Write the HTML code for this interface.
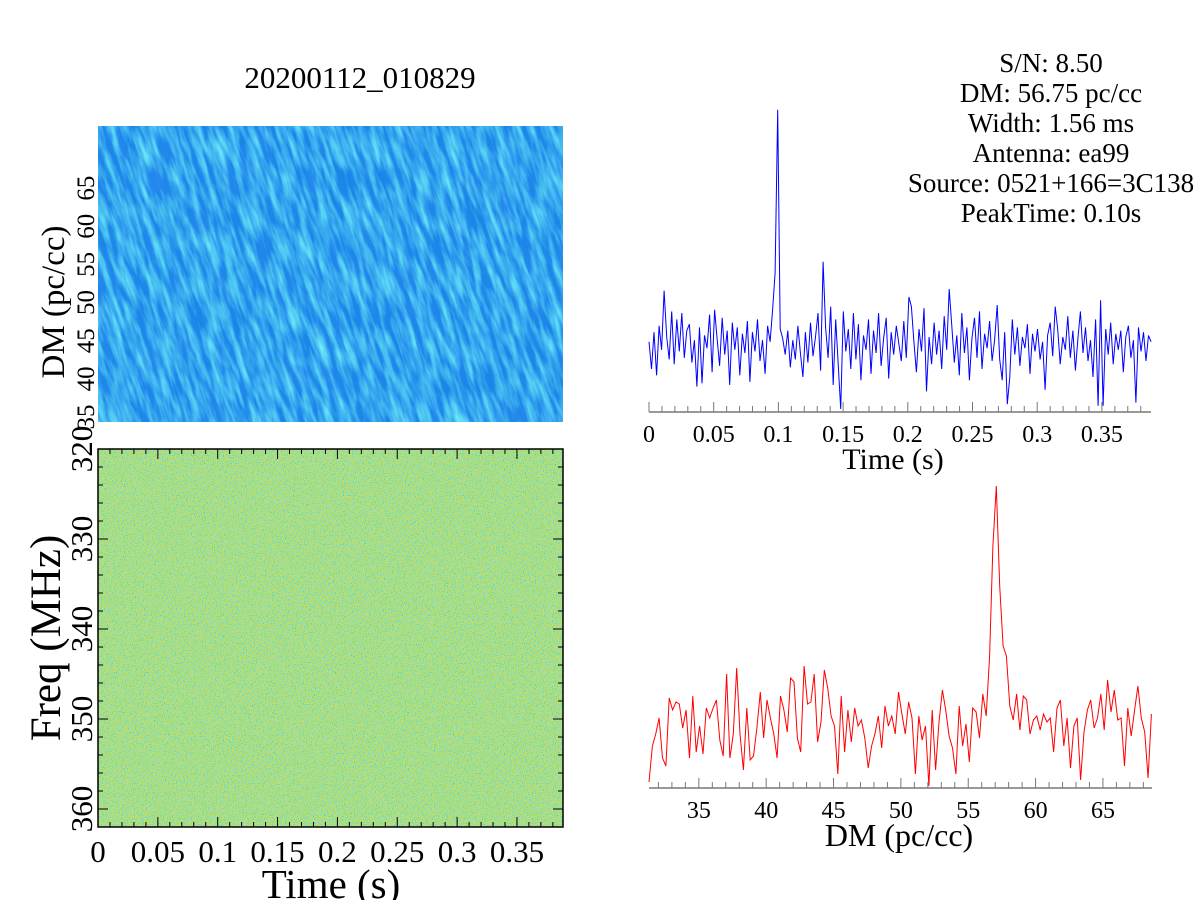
<!DOCTYPE html>
<html><head><meta charset="utf-8">
<style>
html,body{margin:0;padding:0;background:#fff;}
svg{display:block;font-family:"Liberation Serif",serif;}
</style></head>
<body>
<svg id="fig" width="1200" height="900" viewBox="0 0 1200 900" xmlns="http://www.w3.org/2000/svg">
<defs>
  <filter id="streaks" x="0" y="0" width="100%" height="100%">
    <feTurbulence type="fractalNoise" baseFrequency="0.15 0.03" numOctaves="3" seed="4"/>
    <feColorMatrix type="matrix" values="0 0 0 0 0.15  0 0 0 0 0.85  0 0 0 0 0.95  1.8 0 0 0 -0.6"/>
  </filter>
  <filter id="darkstreaks" x="0" y="0" width="100%" height="100%">
    <feTurbulence type="fractalNoise" baseFrequency="0.09 0.02" numOctaves="2" seed="11"/>
    <feColorMatrix type="matrix" values="0 0 0 0 0.02  0 0 0 0 0.25  0 0 0 0 0.85  1.8 0 0 0 -0.6"/>
  </filter>
  <filter id="speckle" x="0" y="0" width="100%" height="100%">
    <feTurbulence type="fractalNoise" baseFrequency="0.9" numOctaves="1" seed="3"/>
    <feColorMatrix type="matrix" values="2.4 0 0 0 -0.7  0 0 0 0 0.75  -2.4 0 0 0 1.5  0 0 0 0 0.8"/>
  </filter>
  <clipPath id="surfClip"><rect x="98" y="126" width="465" height="296"/></clipPath>
</defs>

<text x="360" y="88" text-anchor="middle" font-size="31">20200112_010829</text>

<g>
  <rect x="98" y="126" width="465" height="296" fill="#1a86e8"/>
  <g clip-path="url(#surfClip)">
    <rect x="-50" y="100" width="800" height="350" filter="url(#darkstreaks)" transform="skewX(18)"/>
    <rect x="-50" y="100" width="800" height="350" filter="url(#streaks)" transform="skewX(18)"/>
  </g>
</g>
<g id="surfAxis"></g>
<text transform="translate(64,302) rotate(-90)" text-anchor="middle" font-size="33">DM (pc/cc)</text>

<g>
  <rect x="98" y="449" width="465" height="378" fill="#6ccf9c"/>
  <rect x="98" y="449" width="465" height="378" filter="url(#speckle)"/>
  <rect x="98" y="449" width="465" height="378" fill="none" stroke="#000" stroke-width="1.5"/>
</g>
<g id="wfAxis"></g>
<text transform="translate(60,638) rotate(-90)" text-anchor="middle" font-size="43">Freq (MHz)</text>
<text x="331" y="898" text-anchor="middle" font-size="41">Time (s)</text>

<g font-size="27" text-anchor="middle">
  <text x="1051" y="72">S/N: 8.50</text>
  <text x="1051" y="102">DM: 56.75 pc/cc</text>
  <text x="1051" y="132">Width: 1.56 ms</text>
  <text x="1051" y="162">Antenna: ea99</text>
  <text x="1051" y="192">Source: 0521+166=3C138</text>
  <text x="1051" y="222">PeakTime: 0.10s</text>
</g>

<g id="tsPlot"></g>
<text x="893" y="469" text-anchor="middle" font-size="30">Time (s)</text>
<g id="dmPlot"></g>
<text x="899" y="846" text-anchor="middle" font-size="32">DM (pc/cc)</text>
</svg>

<script>
const NS = "http://www.w3.org/2000/svg";
const timeSeries = [
0.2,-1.5,0.8,-1.9,1.2,-0.3,3.4,0.5,-0.9,2.1,-1.2,1.6,-0.4,2.0,-0.8,0.9,1.3,-1.1,0.3,-2.6,
1.1,-2.4,0.6,-0.2,1.9,-1.7,2.2,0.4,-1.3,1.7,-0.6,0.9,-2.5,1.4,-0.3,1.1,-1.9,0.7,-0.5,1.5,
-2.3,0.8,-0.4,1.6,-1.0,0.3,-1.8,1.2,0.2,2.2,4.5,14.7,1.0,0.4,-0.6,0.9,-1.4,0.3,-0.9,1.2,
-0.5,-2.0,0.8,-1.1,1.4,-0.7,0.5,2.0,-1.6,5.2,1.1,-0.8,2.4,-2.5,1.6,-1.2,-4.0,2.1,-0.4,1.0,
-1.5,2.0,-0.9,1.3,-2.2,0.6,-0.3,1.6,-1.8,0.9,-0.5,2.0,-1.3,0.4,1.7,-2.1,0.8,-0.6,1.2,0.1,
-1.0,1.5,-0.8,3.0,2.4,0.2,-1.7,1.0,-0.4,2.3,-2.9,0.5,-1.2,1.4,-0.6,0.9,-1.5,1.8,-0.3,3.5,
1.2,-1.1,0.6,-1.9,2.0,-0.5,1.1,-2.2,0.4,1.7,-0.8,2.1,-1.5,0.7,-0.2,1.5,-1.0,0.3,2.5,-0.9,
-2.2,0.8,-3.7,-2.0,1.6,-0.6,1.1,-1.3,0.5,-0.2,1.3,-1.8,0.7,-0.4,1.0,-0.9,0.2,-2.8,0.6,1.4,
-0.7,2.4,1.0,-1.2,0.5,-0.3,1.8,-0.8,0.9,-1.6,0.4,2.1,-0.5,1.1,-1.0,0.3,-2.0,1.6,-3.8,2.8,
-3.8,1.0,-0.6,1.4,-1.2,0.7,-0.3,0.9,-1.7,0.5,1.2,-0.8,0.3,-3.6,1.1,-0.4,0.8,-1.0,0.6,0.2];
const tsStart = 0, tsEnd = 0.388;
const dmCurve = [
0.2,2.0,2.6,3.4,1.4,1.0,4.4,3.8,4.2,4.1,2.9,3.8,1.4,4.5,1.7,3.0,1.6,3.9,3.4,3.9,
4.3,2.3,1.5,5.6,1.4,2.6,5.9,2.6,0.8,3.9,1.3,1.5,2.9,4.7,2.4,4.3,3.4,2.6,1.4,4.5,
3.8,2.7,5.4,5.2,2.4,1.7,6.0,4.1,4.2,5.6,2.2,3.2,5.8,4.9,3.5,3.0,0.6,4.5,1.7,3.8,
2.2,3.9,3.0,3.3,2.4,0.9,2.0,2.6,3.5,1.9,4.0,3.0,3.5,2.6,4.7,3.6,2.6,4.2,3.4,0.6,
3.5,2.3,3.0,0.0,3.8,0.8,3.2,4.8,3.8,2.5,1.9,0.6,4.0,2.0,3.1,1.2,3.9,3.7,2.4,4.6,
3.5,6.5,12.0,15.0,10.0,7.0,6.5,4.0,3.3,4.6,2.8,4.5,4.3,2.6,3.3,3.5,2.8,3.6,3.2,3.4,
1.7,3.9,4.3,2.0,3.4,0.9,3.0,3.4,0.3,2.7,3.8,4.3,2.9,3.4,4.6,2.8,5.3,3.7,4.8,3.3,
3.4,1.0,3.9,2.5,3.8,5.0,3.4,2.7,0.4,3.6];
const dmStart = 31.3, dmEnd = 68.6;
const timeTicks = [0,0.05,0.1,0.15,0.2,0.25,0.3,0.35];
const timeTickLabels = ["0","0.05","0.1","0.15","0.2","0.25","0.3","0.35"];
const dmTicks = [35,40,45,50,55,60,65];
const freqTicks = [320,330,340,350,360];
const surfDmTicks = [35,40,45,50,55,60,65];

function el(tag, attrs, parent){const e=document.createElementNS(NS,tag);for(const k in attrs)e.setAttribute(k,attrs[k]);parent.appendChild(e);return e;}

const tsG = document.getElementById('tsPlot');
const tsX = t => 649 + (t - tsStart) / 0.05 * 64.7;
const tsY = v => 345 - v * 16;
const tsAxisY = 412;
el('line',{x1:649,y1:tsAxisY,x2:1151,y2:tsAxisY,stroke:'#777','stroke-width':1.5},tsG);
for(let t=0;t<=0.3881;t+=0.01){
  const major = Math.abs(Math.round(t*20)-t*20)<1e-6;
  el('line',{x1:tsX(t),y1:tsAxisY,x2:tsX(t),y2:tsAxisY-(major?10:6),stroke:'#777','stroke-width':1},tsG);
}
timeTicks.forEach((t,i)=>{
  const tx = el('text',{x:tsX(t),y:442,'text-anchor':'middle','font-size':24},tsG);
  
  
  tx.textContent = timeTickLabels[i];
});
const tsDt = (tsEnd - tsStart)/(timeSeries.length-1);
const tsLine = el('polyline',{fill:'none',stroke:'#0000ff','stroke-width':1,points:timeSeries.map((v,i)=>tsX(tsStart+i*tsDt).toFixed(1)+','+tsY(v).toFixed(1)).join(' ')},tsG);



const dmG = document.getElementById('dmPlot');
const dmX = d => 649 + (d - dmStart) * 13.47;
const dmY = v => 786 - v * 20;
const dmAxisY = 788;
el('line',{x1:649,y1:dmAxisY,x2:1152,y2:dmAxisY,stroke:'#777','stroke-width':1.5},dmG);
for(let d=32;d<=68.6;d+=1){
  const major = d%5===0;
  el('line',{x1:dmX(d),y1:dmAxisY,x2:dmX(d),y2:dmAxisY-(major?10:6),stroke:'#777','stroke-width':1},dmG);
}
dmTicks.forEach(d=>{
  const tx = el('text',{x:dmX(d),y:818,'text-anchor':'middle','font-size':24},dmG);
  
  
  tx.textContent = d;
});
const dmStep = (dmEnd - dmStart)/(dmCurve.length-1);
const dmLine = el('polyline',{fill:'none',stroke:'#ff0000','stroke-width':1,points:dmCurve.map((v,i)=>dmX(dmStart+i*dmStep).toFixed(1)+','+dmY(v).toFixed(1)).join(' ')},dmG);



const wfG = document.getElementById('wfAxis');
const wfX = t => 98 + t * 1197;
const wfY = f => 449 + (f - 320) * 9;
for(let t=0;t<=0.3881;t+=0.01){
  const major = Math.abs(Math.round(t*20)-t*20)<1e-6;
  const L = major?10:5;
  el('line',{x1:wfX(t),y1:827,x2:wfX(t),y2:827-L,stroke:'#000','stroke-width':1},wfG);
  el('line',{x1:wfX(t),y1:449,x2:wfX(t),y2:449+L,stroke:'#000','stroke-width':1},wfG);
}
for(let f=320;f<=362;f+=2){
  const major = f%10===0;
  const L = major?10:5;
  el('line',{x1:98,y1:wfY(f),x2:98+L,y2:wfY(f),stroke:'#000','stroke-width':1},wfG);
  el('line',{x1:563,y1:wfY(f),x2:563-L,y2:wfY(f),stroke:'#000','stroke-width':1},wfG);
}
freqTicks.forEach(f=>{
  const tx = el('text',{transform:`translate(92,${wfY(f)}) rotate(-90)`,'text-anchor':'middle','font-size':31},wfG);
  
  
  tx.textContent = f;
});
timeTicks.forEach((t,i)=>{
  const tx = el('text',{x:wfX(t),y:862,'text-anchor':'middle','font-size':31},wfG);
  
  
  tx.textContent = timeTickLabels[i];
});

const sG = document.getElementById('surfAxis');
const sY = d => 417 - (d - 35) * 7.63;
surfDmTicks.forEach(d=>{
  const tx = el('text',{transform:`translate(94,${sY(d)}) rotate(-90)`,'text-anchor':'middle','font-size':25},sG);
  
  
  tx.textContent = d;
});
</script>
</body></html>
